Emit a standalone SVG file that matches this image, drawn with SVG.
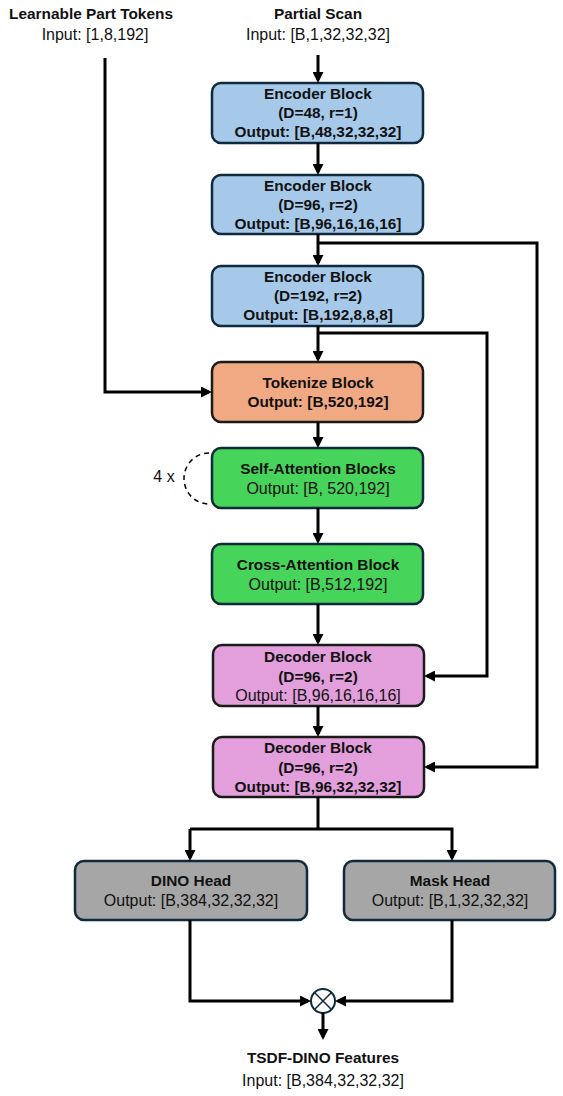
<svg xmlns="http://www.w3.org/2000/svg" width="563" height="1096" viewBox="0 0 563 1096">
<defs>
<marker id="ah" viewBox="0 0 10 10" refX="7.3" refY="5" markerWidth="11" markerHeight="11" markerUnits="userSpaceOnUse" orient="auto">
<path d="M0,0 L10,5 L0,10 z" fill="#000"/>
</marker>
<style>
text{font-family:"Liberation Sans",Arial,sans-serif;font-size:16px;text-anchor:middle;fill:#111}
.b{font-weight:bold;font-size:15.4px}
.box{stroke:#0f2a3d;stroke-width:2.5}
.enc{fill:#a6c9ea}
.tok{fill:#f1a983;stroke:#1a1a1a}
.grn{fill:#47d45a}
.dec{fill:#e39fdb;stroke:#1a1a1a}
.gry{fill:#a6a6a6}
.c{fill:none;stroke:#000;stroke-width:3}
.a{marker-end:url(#ah)}
</style>
</defs>

<g id="learnable-tokens">
<text class="b" x="91" y="19">Learnable Part Tokens</text>
<text x="95" y="40">Input: [1,8,192]</text>
</g>
<g id="partial-scan">
<text class="b" x="318" y="19">Partial Scan</text>
<text x="318" y="40">Input: [B,1,32,32,32]</text>
</g>

<g id="encoder1">
<rect class="box enc" x="212" y="83" width="211" height="60" rx="9"/>
<text class="b" x="318" y="99">Encoder Block</text>
<text class="b" x="318" y="118">(D=48, r=1)</text>
<text class="b" x="318" y="137">Output: [B,48,32,32,32]</text>
</g>
<g id="encoder2">
<rect class="box enc" x="212" y="175" width="211" height="59" rx="9"/>
<text class="b" x="318" y="191">Encoder Block</text>
<text class="b" x="318" y="210">(D=96, r=2)</text>
<text class="b" x="318" y="229">Output: [B,96,16,16,16]</text>
</g>
<g id="encoder3">
<rect class="box enc" x="212" y="266" width="211" height="60" rx="9"/>
<text class="b" x="318" y="282">Encoder Block</text>
<text class="b" x="318" y="301">(D=192, r=2)</text>
<text class="b" x="318" y="320">Output: [B,192,8,8,8]</text>
</g>
<g id="tokenize">
<rect class="box tok" x="212" y="362" width="211" height="60" rx="9"/>
<text class="b" x="318" y="388">Tokenize Block</text>
<text class="b" x="318" y="407">Output: [B,520,192]</text>
</g>
<g id="self-attention">
<rect class="box grn" x="212" y="448" width="211" height="60" rx="9"/>
<text class="b" x="318" y="474">Self-Attention Blocks</text>
<text x="318" y="494">Output: [B, 520,192]</text>
<path d="M209,453 A25,25.5 0 0 0 209,504" fill="none" stroke="#000" stroke-width="1.5" stroke-dasharray="5,4"/>
<text x="164" y="482">4 x</text>
</g>
<g id="cross-attention">
<rect class="box grn" x="212" y="544" width="211" height="60" rx="9"/>
<text class="b" x="318" y="570">Cross-Attention Block</text>
<text x="318" y="590">Output: [B,512,192]</text>
</g>
<g id="decoder1">
<rect class="box dec" x="213" y="645" width="211" height="61" rx="9"/>
<text class="b" x="318" y="662">Decoder Block</text>
<text class="b" x="318" y="682">(D=96, r=2)</text>
<text x="318" y="701">Output: [B,96,16,16,16]</text>
</g>
<g id="decoder2">
<rect class="box dec" x="213" y="737" width="211" height="60" rx="9"/>
<text class="b" x="318" y="753">Decoder Block</text>
<text class="b" x="318" y="773">(D=96, r=2)</text>
<text class="b" x="318" y="792">Output: [B,96,32,32,32]</text>
</g>
<g id="dino-head">
<rect class="box gry" x="75" y="861" width="232" height="59" rx="9"/>
<text class="b" x="191" y="886">DINO Head</text>
<text x="191" y="906">Output: [B,384,32,32,32]</text>
</g>
<g id="mask-head">
<rect class="box gry" x="344" y="861" width="211" height="59" rx="9"/>
<text class="b" x="450" y="886">Mask Head</text>
<text x="450" y="906">Output: [B,1,32,32,32]</text>
</g>
<g id="multiply">
<circle cx="323" cy="1001" r="12" fill="#fff" stroke="#0f2a3d" stroke-width="2"/>
<path d="M314.5,992.5 L331.5,1009.5 M331.5,992.5 L314.5,1009.5" stroke="#0f2a3d" stroke-width="1.5"/>
</g>
<g id="tsdf-dino">
<text class="b" x="323" y="1063">TSDF-DINO Features</text>
<text x="323" y="1086">Input: [B,384,32,32,32]</text>
</g>

<g id="connectors">
<path class="c a" d="M318,55 V80"/>
<path class="c a" d="M318,143 V172"/>
<path class="c a" d="M318,234 V263"/>
<path class="c a" d="M318,326 V359"/>
<path class="c a" d="M318,422 V445"/>
<path class="c a" d="M318,508 V541"/>
<path class="c a" d="M318,604 V642"/>
<path class="c a" d="M318,706 V734"/>
<path class="c a" d="M318,243 H537 V767 H427"/>
<path class="c a" d="M318,333 H487 V676 H427"/>
<path class="c a" d="M105,58 V392 H209"/>
<path class="c" d="M318,797 V829"/>
<path class="c a" d="M190,829 H452 V858"/>
<path class="c a" d="M190,829 V858"/>
<path class="c a" d="M190,920 V1001 H308"/>
<path class="c a" d="M452,920 V1001 H338"/>
<path class="c a" d="M323,1013 V1037"/>
</g>
</svg>
